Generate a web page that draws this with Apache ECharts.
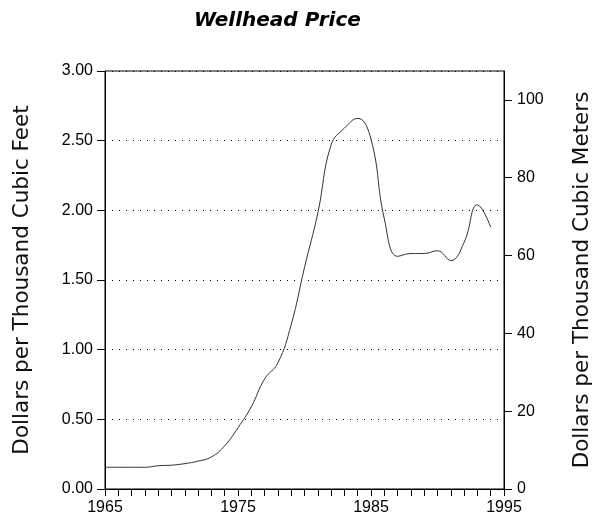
<!DOCTYPE html>
<html>
<head>
<meta charset="utf-8">
<script src="https://cdn.jsdelivr.net/npm/echarts@6/dist/echarts.min.js"></script>
<style>
  html, body { margin: 0; padding: 0; background: #fff; }
  #chart { width: 601px; height: 523px; }
</style>
</head>
<body>
<div id="chart"></div>
<script>
// wellhead price, dollars per thousand cubic feet
var years = [1965, 1966, 1967, 1968, 1969, 1970, 1971, 1972, 1973, 1974,
  1975, 1976, 1977, 1978, 1979, 1980, 1981, 1982, 1983, 1984,
  1985, 1986, 1987, 1988, 1989, 1990, 1991, 1992, 1993, 1994]
var prices = [0.156, 0.156, 0.156, 0.156, 0.167, 0.171, 0.182, 0.20, 0.23, 0.31,
  0.44, 0.59, 0.79, 0.905, 1.18, 1.59, 1.98, 2.47, 2.59, 2.66,
  2.51, 1.94, 1.67, 1.69, 1.69, 1.71, 1.64, 1.77, 2.04, 1.88]
var yearLabels = [1965, 1975, 1985, 1995]
var meterTicks = [0, 20, 40, 60, 80, 100]

var M3_PER_MCF = 35.8 // right axis scale

var chart = echarts.init(document.getElementById('chart'))

var txt = { color: '#000', fontFamily: 'Liberation Sans, Arial, sans-serif', fontSize: 16 }
var nameTxt = { color: '#111', fontFamily: 'DejaVu Sans, sans-serif', fontSize: 21.5 }

var option = {
  animation: false,
  backgroundColor: '#fff',
  title: {
    text: 'Wellhead Price',
    left: 189,
    top: 6,
    textStyle: {
      fontFamily: 'DejaVu Sans, sans-serif',
      fontSize: 20,
      fontWeight: 'bold',
      fontStyle: 'italic',
      color: '#000'
    }
  },
  grid: {
    left: 105,
    right: 96,
    top: 71,
    bottom: 34,
    show: true,
    borderColor: '#000',
    borderWidth: 1
  },
  xAxis: {
    type: 'value',
    min: 1965,
    max: 1995,
    interval: 1,
    axisLine: { lineStyle: { color: '#000', width: 1 } },
    axisTick: { length: 7, lineStyle: { color: '#000' } },
    axisLabel: Object.assign({}, txt, {
      margin: 11,
      showMinLabel: true,
      showMaxLabel: true,
      formatter: function (v) { return yearLabels.indexOf(v) >= 0 ? String(v) : '' }
    }),
    splitLine: { show: false }
  },
  yAxis: [
    {
      type: 'value',
      min: 0,
      max: 3,
      interval: 0.5,
      name: 'Dollars per Thousand Cubic Feet',
      nameLocation: 'middle',
      nameRotate: 90,
      nameGap: 72,
      nameTextStyle: nameTxt,
      axisLine: { show: true, lineStyle: { color: '#000', width: 1 } },
      axisTick: { show: true, length: 8, lineStyle: { color: '#000' } },
      axisLabel: Object.assign({}, txt, {
        margin: 12,
        formatter: function (v) { return v.toFixed(2) }
      }),
      splitLine: { show: true, lineStyle: { color: '#000', width: 1, type: [1, 6] } }
    },
    {
      type: 'value',
      position: 'right',
      min: 0,
      max: 3 * M3_PER_MCF,
      name: 'Dollars per Thousand Cubic Meters',
      nameLocation: 'middle',
      nameRotate: 90,
      nameGap: 67,
      nameTextStyle: nameTxt,
      axisLine: { show: true, lineStyle: { color: '#000', width: 1 } },
      axisTick: { show: true, length: 8, customValues: meterTicks, lineStyle: { color: '#000' } },
      axisLabel: Object.assign({}, txt, { margin: 13, customValues: meterTicks }),
      splitLine: { show: false }
    }
  ],
  series: [
    {
      type: 'line',
      yAxisIndex: 0,
      data: years.map(function (y, i) { return [y, prices[i]] }),
      smooth: 0.45,
      showSymbol: false,
      lineStyle: { color: '#333', width: 1 }
    }
  ]
}

chart.setOption(option)
window.addEventListener('resize', function () {
  chart.resize()
})
</script>
</body>
</html>
